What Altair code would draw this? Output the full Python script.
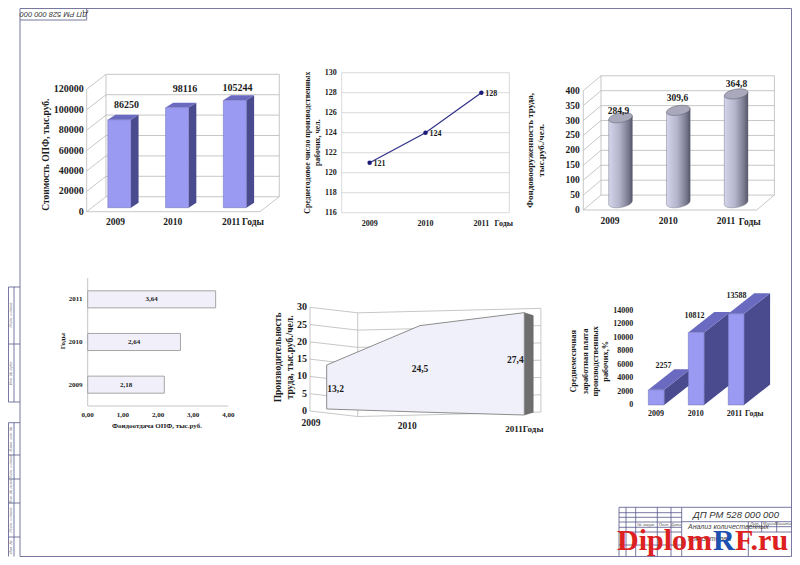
import math
import altair as alt
import pandas as pd

# ---------- chart values ----------
years = ["2009", "2010", "2011"]
fund_cost = [86250, 98116, 105244]
fund_cost_labels = ["86250", "98116", "105244"]
fund_cost_ticks = [0, 20000, 40000, 60000, 80000, 100000, 120000]
workers = [121, 124, 128]
workers_ticks = [116, 118, 120, 122, 124, 126, 128, 130]
equip = [284.9, 309.6, 364.8]
equip_labels = ["284,9", "309,6", "364,8"]
equip_ticks = [0, 50, 100, 150, 200, 250, 300, 350, 400]
yield_vals = [2.18, 2.64, 3.64]
yield_labels = ["2,18", "2,64", "3,64"]
yield_ticks = [0, 1, 2, 3, 4]
yield_tick_labels = ["0,00", "1,00", "2,00", "3,00", "4,00"]
product = [13.2, 24.5, 27.4]
product_labels = ["13,2", "24,5", "27,4"]
product_ticks = [0, 5, 10, 15, 20, 25, 30]
wage = [2257, 10812, 13588]
wage_ticks = [0, 2000, 4000, 6000, 8000, 10000, 12000, 14000]

SERIF = "Liberation Serif"
SANS = "Liberation Sans"
INK = "#1c1c1c"
GRID = "#b9b9b9"
FRONT, SIDE, TOP = "#9a9af2", "#4a4a8e", "#6a6ac0"
layers = []


def sx(a, b, lo, hi):
    return alt.Scale(domain=[lo, hi], range=[a - 8, b - 8], nice=False, zero=False)


def sy(bottom, top, lo, hi):
    return alt.Scale(domain=[lo, hi], range=[bottom - 8, top - 8], nice=False, zero=False)


def X(s):
    return alt.X("x:Q", scale=s, axis=None, stack=None)


def Y(s):
    return alt.Y("y:Q", scale=s, axis=None, stack=None)


def rules(rows, xs, ys, color=GRID, w=0.8):
    df = pd.DataFrame(rows, columns=["x", "x2", "y", "y2"])
    layers.append(alt.Chart(df).mark_rule(color=color, strokeWidth=w).encode(
        X(xs), x2="x2:Q", y=Y(ys), y2="y2:Q"))


def texts(rows, xs, ys, size=9.5, angle=0, align="center", font=SERIF, weight="bold",
          style="normal", color=INK, base="middle"):
    df = pd.DataFrame(rows, columns=["x", "y", "t"])
    layers.append(alt.Chart(df).mark_text(
        fontSize=size, angle=angle, align=align, baseline=base, font=font,
        fontWeight=weight, fontStyle=style, color=color).encode(X(xs), Y(ys), text="t:N"))


def rect(rows, xs, ys, fill, stroke=None, w=0.6):
    df = pd.DataFrame(rows, columns=["x", "x2", "y", "y2"])
    kw = dict(fill=fill, opacity=1)
    if stroke:
        kw.update(stroke=stroke, strokeWidth=w)
    layers.append(alt.Chart(df).mark_rect(**kw).encode(X(xs), x2="x2:Q", y=Y(ys), y2="y2:Q"))


def area_v(rows, xs, ys, fill, stroke=None, w=0.6):
    df = pd.DataFrame(rows, columns=["x", "y", "y2"])
    kw = dict(fill=fill, opacity=1)
    if stroke:
        kw.update(stroke=stroke, strokeWidth=w)
    layers.append(alt.Chart(df).mark_area(**kw).encode(X(xs), Y(ys), y2="y2:Q"))


def area_h(rows, xs, ys, fill, stroke=None, w=0.6):
    df = pd.DataFrame(rows, columns=["y", "x", "x2"])
    kw = dict(fill=fill, opacity=1, orient="horizontal")
    if stroke:
        kw.update(stroke=stroke, strokeWidth=w)
    layers.append(alt.Chart(df).mark_area(**kw).encode(Y(ys), X(xs), x2="x2:Q"))


def bar3d(xl, xr, base, v, ddx, ddy, xs, ys):
    area_v([(xr, v, base), (xr + ddx, v + ddy, base + ddy)], xs, ys, SIDE)
    area_h([(v, xl, xr), (v + ddy, xl + ddx, xr + ddx)], xs, ys, TOP)
    rect([(xl, xr, base, v)], xs, ys, FRONT, "#5a5aa0", 0.4)


def box_grid(ticks, xs, ys, dx, dy, xmax=3):
    top = ticks[-1]
    rows = []
    for t in ticks:
        rows.append((0, dx, t, t + dy))
        rows.append((dx, xmax + dx, t + dy, t + dy))
    rows += [(dx, dx, dy, top + dy), (xmax + dx, xmax + dx, dy, top + dy),
             (0, xmax, 0, 0), (xmax, xmax + dx, 0, dy), (0, 0, 0, top)]
    rules(rows, xs, ys)


# ---------- 1: fixed assets, 3D columns ----------
xs, ys = sx(86.7, 260, 0, 3), sy(211.7, 89.3, 0, 120000)
box_grid(fund_cost_ticks, xs, ys, 0.334, 14700)
for i, v in enumerate(fund_cost):
    bar3d(i + 0.365, i + 0.765, 3920, v + 3920, 0.133, 4900, xs, ys)
texts([(-0.05, t, str(t)) for t in fund_cost_ticks], xs, ys, size=10, align="right")
texts([(i + 0.5 - d, -10500, y) for i, (y, d) in enumerate(zip(years, [0, 0.01, 0]))], xs, ys, size=9.5)
texts([(2.88, -10500, "Годы")], xs, ys, size=9.5)
texts([(0.69, 104500, fund_cost_labels[0]), (1.7, 120000, fund_cost_labels[1]), (2.61, 121000, fund_cost_labels[2])],
      xs, ys, size=10)
texts([(-0.71, 56000, "Стоимость ОПФ, тыс.руб.")], xs, ys, size=9.5, angle=270)

# ---------- 2: workers, line ----------
xs, ys = sx(341.7, 509.3, 0, 3), sy(212.7, 72.7, 116, 130)
rules([(0, 3, t, t) for t in workers_ticks] + [(0, 0, 116, 130), (3, 3, 116, 130)], xs, ys, "#cfcfcf", 0.8)
df = pd.DataFrame({"x": [0.5, 1.5, 2.5], "y": workers})
layers.append(alt.Chart(df).mark_line(color="#34348a", strokeWidth=1.3).encode(X(xs), Y(ys)))
layers.append(alt.Chart(df).mark_point(filled=True, color="#1a1a78", size=20, opacity=1).encode(X(xs), Y(ys)))
texts([(-0.09, t, str(t)) for t in workers_ticks], xs, ys, size=8, align="right")
texts([(i + 0.5, 114.9, y) for i, y in enumerate(years)], xs, ys, size=8)
texts([(2.9, 114.9, "Годы")], xs, ys, size=8)
texts([(i + 0.57, v - 0.1, str(v)) for i, v in enumerate(workers)], xs, ys, size=8, align="left")
texts([(-0.6, 123, "Среднегодовое число производственных"), (-0.42, 123, "рабочих, чел.")], xs, ys, size=7.8, angle=270)

# ---------- 3: capital-labour ratio, cylinders ----------
xs, ys = sx(583.3, 756.7, 0, 3), sy(210, 90.7, 0, 400)
box_grid(equip_ticks, xs, ys, 0.306, 50)
ts = [k / 15 - 1 for k in range(31)]
cyl_fill = alt.Gradient(gradient="linear", x1=0, y1=0, x2=1, y2=0, stops=[
    alt.GradientStop(offset=0, color="#d4d4ea"), alt.GradientStop(offset=0.45, color="#b4b4cc"),
    alt.GradientStop(offset=0.85, color="#77778c"), alt.GradientStop(offset=1, color="#55556a")])
for i, v in enumerate(equip):
    c, top, base = i + 0.644, v + 24.5, 24.5
    body = [(c + 0.205 * t, top + 6 * t, base + 6 * t - 16 * math.sqrt(1 - t * t)) for t in ts]
    cap = [(c + 0.205 * t, top + 6 * t + 16 * math.sqrt(1 - t * t), top + 6 * t - 16 * math.sqrt(1 - t * t)) for t in ts]
    area_v(body, xs, ys, cyl_fill, "#66667a", 0.4)
    area_v(cap, xs, ys, "#a9a9bb", "#55556a", 0.5)
texts([(-0.06, t, str(t)) for t in equip_ticks], xs, ys, size=9.5, align="right")
texts([(0.46, -36, years[0]), (1.47, -36, years[1]), (2.47, -36, years[2])], xs, ys, size=9.5)
texts([(2.88, -40, "Годы")], xs, ys, size=9.5)
texts([(0.61, 333, equip_labels[0]), (1.63, 376, equip_labels[1]), (2.65, 422, equip_labels[2])], xs, ys, size=9.5)
texts([(-0.92, 200, "Фондовооруженность труда,"), (-0.74, 200, "тыс.руб./чел.")], xs, ys, size=9, angle=270)

# ---------- 4: capital productivity, horizontal bars ----------
xs, ys = sx(87.7, 228.3, 0, 4), sy(406, 278, 0, 3)
rules([(0, 0, 0, 3), (0, 4, 0, 0)], xs, ys, "#c4c4c4", 1)
for i, v in enumerate(yield_vals):
    rect([(0, v, i + 0.3, i + 0.7)], xs, ys, "#f0effa", "#a6a6a6", 1)
texts([(v / 2, i + 0.5, yield_labels[i]) for i, v in enumerate(yield_vals)], xs, ys, size=7)
texts([(-0.15, i + 0.5, y) for i, y in enumerate(years)], xs, ys, size=7, align="right")
texts([(t, -0.22, l) for t, l in zip(yield_ticks, yield_tick_labels)], xs, ys, size=7)
texts([(1.97, -0.48, "Фондоотдача ОПФ, тыс.руб.")], xs, ys, size=7)
texts([(-0.7, 1.52, "Годы")], xs, ys, size=7, angle=270)

# ---------- 5: labour productivity, 3D area ----------
xs, ys = sx(326.7, 524.3, 0, 2), sy(411, 307.3, 0, 30)
pl, pb = 0.314, 2.168
rows = []
for t in product_ticks:
    rows.append((-0.169, pl, t, t - 1.6))
    rows.append((pl, pb, t - 1.6, t - 0.3))
rows += [(pl, pl, -1.6, 28.4), (pb, pb, -0.3, 29.7), (-0.169, -0.169, 0, 30)]
rules(rows, xs, ys)
lift = [0.1, 0.2, 1.05]
front_x = [0, 0.944, 2]
front_base = [0.58, -0.3, -1.16]
area_v([(2, product[2] + lift[2], front_base[2]), (2.09, 27.6, -0.39)], xs, ys, "#6e6e6e", "#5a5a5a", 0.5)
area_v([(x, v + l, b) for x, v, l, b in zip(front_x, product, lift, front_base)], xs, ys, "#f0f0fa", "#808080", 0.9)
texts([(-0.2, t, str(t)) for t in product_ticks], xs, ys, size=10, align="right")
texts([(-0.158, -3.5, years[0]), (0.815, -4.2, years[1])], xs, ys, size=9.5)
texts([(2.0, -5.2, "2011Годы")], xs, ys, size=9)
texts([(0.09, 6.5, product_labels[0]), (0.944, 12.1, product_labels[1]), (1.91, 14.7, product_labels[2])], xs, ys, size=9.5)
texts([(-0.49, 15.5, "Производительность"), (-0.375, 15.5, "труда, тыс.руб./чел.")], xs, ys, size=9.5, angle=270)

# ---------- 6: average wage, deep columns ----------
xs, ys = sx(640, 759.1, 0, 3), sy(405, 311, 0, 14000)
for i, v in enumerate(wage):
    bar3d(i + 0.21 + (0.006 * i), i + 0.61 + (0.006 * i), 0, v, 0.655, 3050, xs, ys)
texts([(-0.17, t, str(t)) for t in wage_ticks], xs, ys, size=8, align="right")
texts([(0.405, -1340, years[0]), (1.405, -1340, years[1]), (2.38, -1340, years[2])], xs, ys, size=8)
texts([(2.88, -1340, "Годы")], xs, ys, size=8)
texts([(0.59, 5830, str(wage[0])), (1.37, 13270, str(wage[1])), (2.43, 16240, str(wage[2]))], xs, ys, size=8)
texts([(-1.65, 6500, "Среднемесячная"), (-1.35, 6500, "заработная плата"),
       (-1.1, 6500, "производственных"), (-0.85, 6500, "рабочих,%")], xs, ys, size=8.3, angle=270)

# ---------- sheet frame and title block ----------
xs, ys = sx(8, 792, 8, 792), sy(557, 8, 557, 8)
FRAME = "#55558c"
R = 791.5
frame = [(20, R, 8.5, 8.5), (20, 20, 8.5, 556.5), (R, R, 8.5, 556.5), (20, R, 556.5, 556.5),
         (20, 86.7, 20, 20), (86.7, 86.7, 8.5, 20),
         (8.5, 20, 287, 287), (8.5, 20, 344, 344), (8.5, 20, 402, 402), (8.5, 8.5, 287, 402), (14, 14, 287, 402),
         (8.5, 20, 422.7, 422.7), (8.5, 20, 455, 455), (8.5, 20, 479, 479), (8.5, 20, 503, 503),
         (8.5, 20, 537, 537), (8.5, 8.5, 422.7, 556.5), (14, 14, 422.7, 556.5),
         (619, R, 507.3, 507.3), (619, 619, 507.3, 556.5), (626, 626, 507.3, 556.5), (635.7, 635.7, 507.3, 556.5),
         (657.3, 657.3, 507.3, 556.5), (671, 671, 507.3, 556.5), (681.7, 681.7, 507.3, 556.5),
         (619, 681.7, 512.7, 512.7), (619, 681.7, 517.3, 517.3), (619, 681.7, 522, 522), (619, 681.7, 527.3, 527.3),
         (619, 681.7, 532, 532), (619, 681.7, 545, 545), (681.7, R, 521.7, 521.7),
         (748.3, R, 526.7, 526.7), (748.3, R, 532, 532), (748.3, 748.3, 521.7, 556.5),
         (761.7, 761.7, 521.7, 532), (776.7, 776.7, 521.7, 532)]
rules(frame, xs, ys, FRAME, 0.8)
texts([(53.5, 13.5, "ДП РМ 528 000 000")], xs, ys, size=7.5, angle=180, font=SANS, weight="normal", style="italic", color="#333333")
texts([(736, 515, "ДП РМ 528 000 000")], xs, ys, size=9.5, font=SANS, weight="normal", style="italic", color="#333333")
texts([(688, 527, "Анализ количественных"), (688, 538.5, "показателей")], xs, ys, size=7, align="left", font=SANS,
      weight="normal", style="italic", color="#444444")
texts([(646, 524.5, "№ докум."), (664, 524.5, "Подп."), (676, 524.5, "Дата"), (755, 524.2, "Лит."), (769, 524.2, "Масса"), (784, 524.2, "Масштаб")],
      xs, ys, size=4, font=SANS, weight="normal", style="italic", color="#555555")
texts([(11, 315, "Подп. и дата"), (11, 373, "Инв. № дубл."), (11, 439, "Взам. инв. №"), (11, 467, "Подп. и дата"),
       (11, 491, "Инв. № подл."), (11, 520, "Подп. и дата"), (11, 547, "Инв. №")],
      xs, ys, size=4, angle=270, font=SANS, weight="normal", style="italic", color="#777777")
texts([(617, 550, "Diplom")], xs, ys, size=30, align="left", color="#dd2020", base="alphabetic")
texts([(713, 550, "R")], xs, ys, size=30, align="left", color="#1c50b0", base="alphabetic")
texts([(735, 550, "F.ru")], xs, ys, size=30, align="left", color="#dd2020", base="alphabetic")

chart = alt.layer(*layers).resolve_scale(x="independent", y="independent").properties(
    width=784, height=549, padding=0, autosize="none"
).configure_view(stroke=None)
chart.save("out.html", embed_options={"renderer": "svg", "actions": False})
